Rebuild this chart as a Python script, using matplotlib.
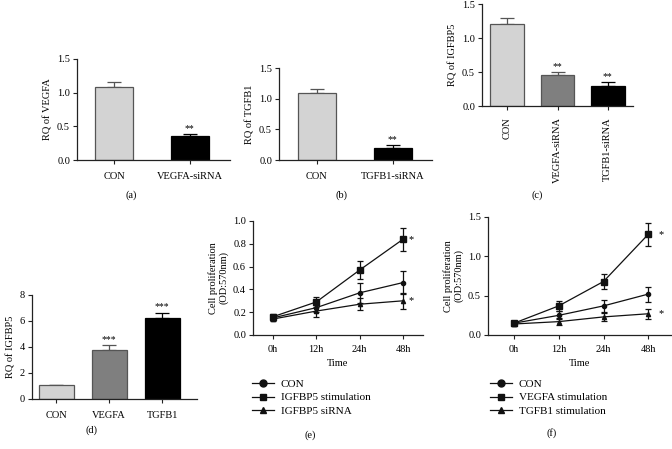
import numpy as np
import matplotlib
matplotlib.use("Agg")
import matplotlib.pyplot as plt
from matplotlib.lines import Line2D

plt.rcParams['font.family'] = ['Liberation Serif', 'DejaVu Serif']
plt.rcParams['font.size'] = 7.5

LIGHT = '#d3d3d3'
MID = '#7f7f7f'
DARK = '#000000'

# (a)
a_labels = ['CON', 'VEGFA-siRNA']
a_values = [1.08, 0.35]
a_errors = [0.08, 0.04]
# (b)
b_labels = ['CON', 'TGFB1-siRNA']
b_values = [1.10, 0.20]
b_errors = [0.05, 0.04]
# (c)
c_labels = ['CON', 'VEGFA-siRNA', 'TGFB1-siRNA']
c_values = [1.20, 0.46, 0.30]
c_errors = [0.10, 0.04, 0.05]
# (d)
d_labels = ['CON', 'VEGFA', 'TGFB1']
d_values = [1.05, 3.80, 6.20]
d_errors = [0.03, 0.32, 0.45]

times = ['0h', '12h', '24h', '48h']
# (e)
e_con = [0.15, 0.24, 0.37, 0.46]
e_con_err = [0.02, 0.04, 0.09, 0.10]
e_stim = [0.16, 0.29, 0.57, 0.84]
e_stim_err = [0.02, 0.045, 0.08, 0.10]
e_sirna = [0.14, 0.21, 0.27, 0.30]
e_sirna_err = [0.02, 0.055, 0.055, 0.07]
# (f)
f_con = [0.15, 0.25, 0.37, 0.52]
f_con_err = [0.02, 0.05, 0.08, 0.095]
f_vegfa = [0.15, 0.37, 0.68, 1.28]
f_vegfa_err = [0.02, 0.06, 0.10, 0.15]
f_tgfb1 = [0.14, 0.17, 0.23, 0.27]
f_tgfb1_err = [0.02, 0.04, 0.05, 0.065]

W, H = 672, 449
fig = plt.figure(figsize=(W / 100, H / 100), dpi=100)


def add_axes(left, right, top, bottom):
    ax = fig.add_axes([left / W, 1 - bottom / H, (right - left) / W, (bottom - top) / H])
    for s in ['top', 'right']:
        ax.spines[s].set_visible(False)
    for s in ['left', 'bottom']:
        ax.spines[s].set_linewidth(0.9)
        ax.spines[s].set_color('#222222')
    ax.tick_params(direction='out', length=3, width=0.8, labelsize=7.5, pad=2, color='#222222')
    return ax


def bar_panel(ax, labels, values, errors, colors, width, stars, star_text, ylim, yticks, ylabel, rot=0):
    x = np.arange(len(labels))
    edges = ['#555555' if c != DARK else DARK for c in colors]
    ax.bar(x, values, width=width, color=colors, edgecolor=edges, linewidth=0.9, zorder=2)
    for i in range(len(x)):
        ax.errorbar(x[i], values[i], yerr=[[0], [errors[i]]], fmt='none',
                    ecolor=edges[i], elinewidth=0.9, capsize=5, capthick=0.9, zorder=1)
    for i in stars:
        ax.text(x[i], values[i] + errors[i] + ylim[1] * 0.01, star_text,
                ha='center', va='bottom', fontsize=7)
    ax.set_ylim(*ylim)
    ax.set_yticks(yticks)
    ax.set_xticks(x)
    ax.set_xticklabels(labels, rotation=rot)
    ax.set_ylabel(ylabel, fontsize=7.5, labelpad=3)


ax_a = add_axes(77, 230, 59, 160)
bar_panel(ax_a, a_labels, a_values, a_errors, [LIGHT, DARK], 0.5, [1], '**',
          (0, 1.5), [0, 0.5, 1.0, 1.5], 'RQ of VEGFA')
ax_a.set_yticklabels(['0.0', '0.5', '1.0', '1.5'])
ax_a.set_xlim(-0.49, 1.53)
ax_a.tick_params(axis='x', pad=5.5)

ax_b = add_axes(279, 432, 68, 160)
bar_panel(ax_b, b_labels, b_values, b_errors, [LIGHT, DARK], 0.5, [1], '**',
          (0, 1.5), [0, 0.5, 1.0, 1.5], 'RQ of TGFB1')
ax_b.set_yticklabels(['0.0', '0.5', '1.0', '1.5'])
ax_b.set_xlim(-0.5, 1.52)
ax_b.tick_params(axis='x', pad=5.5)

ax_c = add_axes(482, 633, 4, 106)
bar_panel(ax_c, c_labels, c_values, c_errors, [LIGHT, MID, DARK], 0.67, [1, 2], '**',
          (0, 1.5), [0, 0.5, 1.0, 1.5], 'RQ of IGFBP5', rot=90)
ax_c.set_yticklabels(['0.0', '0.5', '1.0', '1.5'])
ax_c.set_xlim(-0.5, 2.5)
ax_c.tick_params(axis='x', pad=5)

ax_d = add_axes(32, 197, 295, 399)
bar_panel(ax_d, d_labels, d_values, d_errors, [LIGHT, MID, DARK], 0.66, [1, 2], '***',
          (0, 8), [0, 2, 4, 6, 8], 'RQ of IGFBP5')
ax_d.set_xlim(-0.46, 2.66)
ax_d.tick_params(axis='x', pad=5.5)


def line_panel(ax, series, ylim, yticks, yticklabels, xlim, star_rows, star_dx, legend_labels, legend_x):
    x = np.arange(len(times))
    markers = ['o', 's', '^']
    sizes = [3, 4.5, 3]
    for (vals, errs), m, ms in zip(series, markers, sizes):
        ax.errorbar(x, vals, yerr=errs, color='#111111', marker=m, markersize=ms,
                    linewidth=0.9, elinewidth=0.9, capsize=2.5, capthick=0.9)
    for i in star_rows:
        ax.text(x[-1] + star_dx, series[i][0][-1], '*', ha='left', va='center', fontsize=7.5)
    ax.set_ylim(*ylim)
    ax.set_yticks(yticks)
    ax.set_yticklabels(yticklabels)
    ax.set_xticks(x)
    ax.set_xticklabels(times)
    ax.set_xlim(*xlim)
    ax.tick_params(axis='x', pad=4.5)
    ax.set_xlabel('Time', fontsize=7.5, labelpad=3)
    ax.set_ylabel('Cell proliferation\n(OD:570nm)', fontsize=7.5, labelpad=3)
    handles = [Line2D([], [], color='#111111', marker=m, markersize=5, linewidth=0.9)
               for m in markers]
    ax.legend(handles, legend_labels, loc='upper left',
              bbox_to_anchor=(legend_x / W, 1 - 379 / H), bbox_transform=fig.transFigure,
              frameon=False, fontsize=8, handlelength=2.0, handletextpad=0.6,
              labelspacing=0.35, borderpad=0, borderaxespad=0)


ax_e = add_axes(253, 423, 221, 335)
line_panel(ax_e, [(e_con, e_con_err), (e_stim, e_stim_err), (e_sirna, e_sirna_err)],
           (0, 1.0), [0, 0.2, 0.4, 0.6, 0.8, 1.0], ['0.0', '0.2', '0.4', '0.6', '0.8', '1.0'],
           (-0.46, 3.46), [1, 2], 0.12,
           ['CON', 'IGFBP5 stimulation', 'IGFBP5 siRNA'], 252)

ax_f = add_axes(488, 672, 217, 335)
line_panel(ax_f, [(f_con, f_con_err), (f_vegfa, f_vegfa_err), (f_tgfb1, f_tgfb1_err)],
           (0, 1.5), [0, 0.5, 1.0, 1.5], ['0.0', '0.5', '1.0', '1.5'],
           (-0.58, 3.53), [1, 2], 0.22,
           ['CON', 'VEGFA stimulation', 'TGFB1 stimulation'], 490)

for label, px, py in [('(a)', 131, 195), ('(b)', 342, 195), ('(c)', 537, 195),
                      ('(d)', 91, 430), ('(e)', 310, 435), ('(f)', 552, 433)]:
    fig.text(px / W, 1 - py / H, label, ha='center', va='center', fontsize=7.5)

fig.savefig('out.png', dpi=100)
